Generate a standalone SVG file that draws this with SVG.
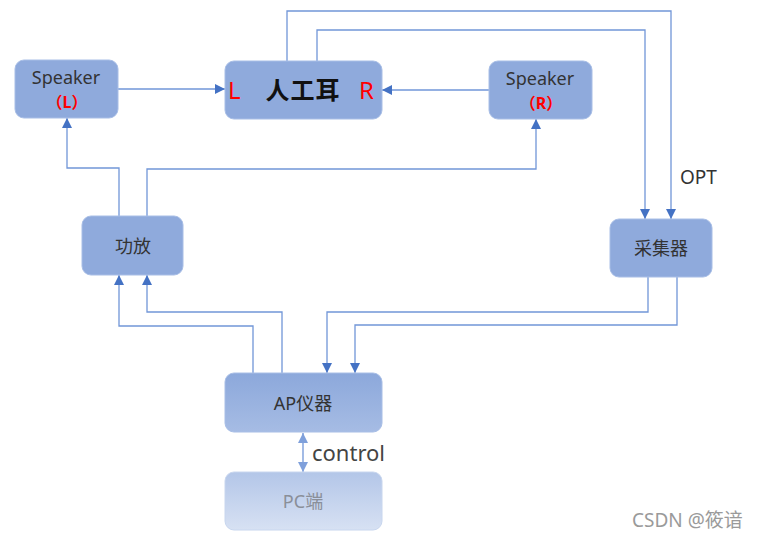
<svg xmlns="http://www.w3.org/2000/svg" width="757" height="539" viewBox="0 0 757 539">
<style>
text{font-family:"Noto Sans","Noto Sans CJK SC",sans-serif;}
.box{fill:#8FAADC;stroke:#A8BEE6;stroke-width:1;}
.lbl{fill:#333;font-size:18px;text-anchor:middle;}
.red{fill:#FF0000;}
.ln{fill:none;stroke:#7196D8;stroke-width:1.3;}
</style>
<defs>
<marker id="ah" viewBox="0 0 10 10" refX="10" refY="5" markerWidth="10" markerHeight="10" markerUnits="userSpaceOnUse" orient="auto">
<path d="M0,0 L10,5 L0,10 Z" fill="#4472C4"/>
</marker>
<marker id="ah2" viewBox="0 0 10 10" refX="10" refY="5" markerWidth="10" markerHeight="10" markerUnits="userSpaceOnUse" orient="auto-start-reverse">
<path d="M0,0 L10,5 L0,10 Z" fill="#7FA0DB"/>
</marker>
<linearGradient id="gAP" x1="0" y1="0" x2="0" y2="1">
<stop offset="0" stop-color="#8CA8DB"/>
<stop offset="1" stop-color="#A6BCE4"/>
</linearGradient>
<linearGradient id="gPC" x1="0" y1="0" x2="0" y2="1">
<stop offset="0" stop-color="#B3C6E8"/>
<stop offset="1" stop-color="#D7E1F3"/>
</linearGradient>
</defs>
<rect width="757" height="539" fill="#FFFFFF"/>

<g id="connectors">
<path class="ln" d="M287,61 V11 H671 V219" marker-end="url(#ah)"/>
<path class="ln" d="M317,61 V30 H645 V219" marker-end="url(#ah)"/>
<path class="ln" d="M118,89 H225" marker-end="url(#ah)"/>
<path class="ln" d="M489,90 H382" marker-end="url(#ah)"/>
<path class="ln" d="M119,216 V168 H67 V118" marker-end="url(#ah)"/>
<path class="ln" d="M147,216 V169 H536 V119" marker-end="url(#ah)"/>
<path class="ln" d="M253,373 V326 H119 V275" marker-end="url(#ah)"/>
<path class="ln" d="M282,373 V312 H147 V275" marker-end="url(#ah)"/>
<path class="ln" d="M648,277 V312 H327 V373" marker-end="url(#ah)"/>
<path class="ln" d="M677,277 V325 H355 V373" marker-end="url(#ah)"/>
<path class="ln" d="M303,433 V472" stroke="#8FAADC" marker-start="url(#ah2)" marker-end="url(#ah2)"/>
<text x="312" y="461" fill="#444" font-size="22">control</text>
<text x="680" y="184" fill="#333" font-size="19">OPT</text>
</g>

<g id="speakerL">
<rect class="box" x="15" y="60" width="103" height="58" rx="9"/>
<text class="lbl" x="66" y="84" font-size="17">Speaker</text>
<text class="red" x="67" y="108" font-size="16" font-weight="bold" text-anchor="middle">（L）</text>
</g>

<g id="ear">
<rect class="box" x="225" y="61" width="157" height="58" rx="9"/>
<text class="red" x="228" y="99" font-size="24">L</text>
<text x="303" y="99" font-size="24" font-weight="600" fill="#111" text-anchor="middle" letter-spacing="1">人工耳</text>
<text class="red" x="359" y="99" font-size="24">R</text>
</g>

<g id="speakerR">
<rect class="box" x="489" y="61" width="103" height="58" rx="9"/>
<text class="lbl" x="540" y="85" font-size="17">Speaker</text>
<text class="red" x="541" y="109" font-size="16" font-weight="bold" text-anchor="middle">（R）</text>
</g>

<g id="amp">
<rect class="box" x="82" y="216" width="101" height="59" rx="9"/>
<text class="lbl" x="133" y="253" font-size="19">功放</text>
</g>

<g id="collector">
<rect class="box" x="610" y="219" width="102" height="58" rx="9"/>
<text class="lbl" x="661" y="255" font-size="19">采集器</text>
</g>

<g id="ap">
<rect x="225" y="373" width="157" height="59" rx="9" fill="url(#gAP)" stroke="#A8BEE6" stroke-width="1"/>
<text class="lbl" x="303" y="410" font-size="18">AP仪器</text>
</g>

<g id="pc">
<rect x="225" y="472" width="157" height="58" rx="9" fill="url(#gPC)" stroke="#C8D6EE" stroke-width="1"/>
<text x="303" y="508" font-size="18" fill="#8A8F99" text-anchor="middle">PC端</text>
</g>

<text x="632" y="527" font-size="19" fill="#9A9A9A">CSDN @筱谙</text>
</svg>
